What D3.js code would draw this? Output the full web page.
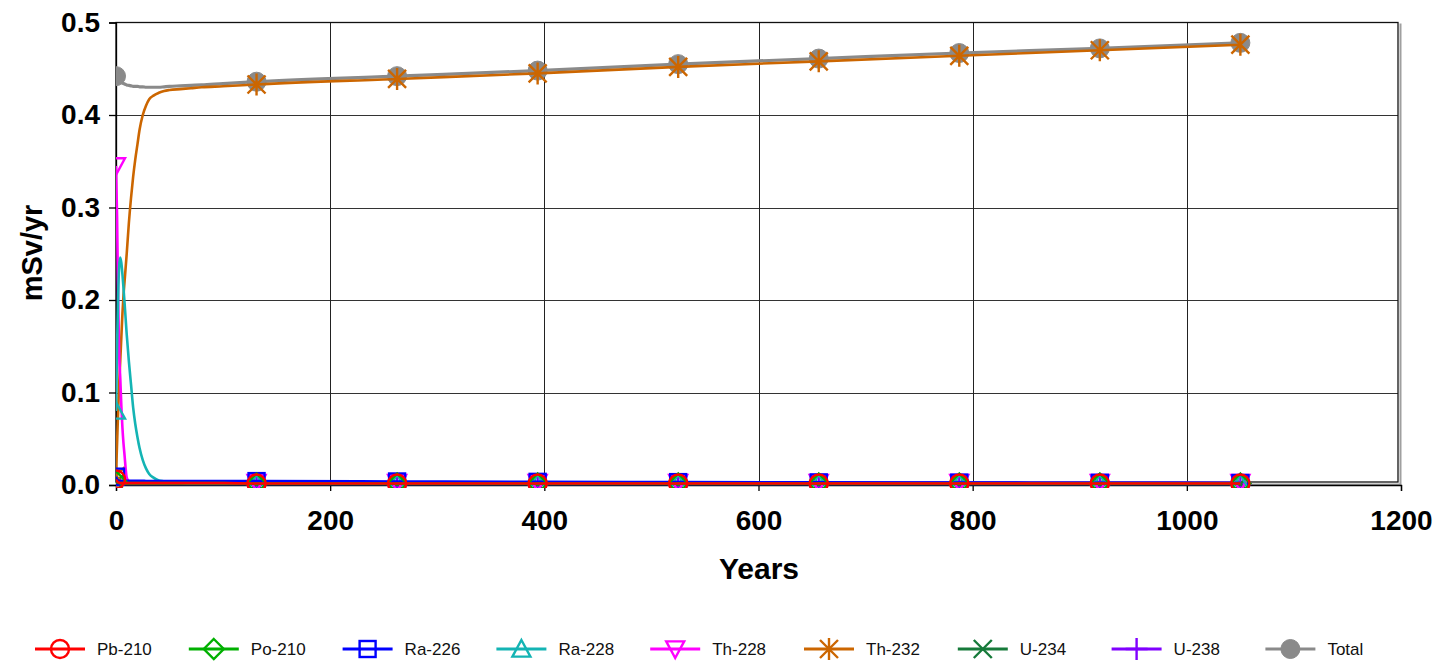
<!DOCTYPE html>
<html>
<head>
<meta charset="utf-8">
<script src="https://cdn.jsdelivr.net/npm/d3@7"></script>
<style>
  html, body { margin: 0; padding: 0; background: #fff; }
  svg { display: block; }
  text { font-family: "Liberation Sans", Arial, sans-serif; }
</style>
</head>
<body>
<svg id="chart" width="1441" height="661"></svg>
<script>
// Dose by nuclide over time (mSv/yr)
const years = [0, 1, 2, 3, 4, 5, 6, 7, 8, 9, 10, 12, 14, 16, 18, 20, 22, 25, 28, 31, 35, 40, 45, 50, 60, 70, 80, 100,
  131.25, 262.5, 393.75, 525, 656.25, 787.5, 918.75, 1050];
const markerYears = [0, 131.25, 262.5, 393.75, 525, 656.25, 787.5, 918.75, 1050];

const pb210 = [0.006, 0.004, 0.003, 0.0025, 0.002, 0.002, 0.002, 0.002, 0.002, 0.002, 0.002, 0.002, 0.002, 0.002, 0.002, 0.002, 0.002, 0.002, 0.002, 0.002, 0.002, 0.002, 0.002, 0.002, 0.002, 0.002, 0.002, 0.002,
  0.0016, 0.0016, 0.0016, 0.0016, 0.0016, 0.0016, 0.0016, 0.0016];
const po210 = [0.004, 0.003, 0.0025, 0.002, 0.002, 0.002, 0.002, 0.002, 0.002, 0.002, 0.002, 0.002, 0.002, 0.002, 0.002, 0.002, 0.002, 0.002, 0.002, 0.002, 0.002, 0.002, 0.002, 0.002, 0.002, 0.002, 0.002, 0.002,
  0.0015, 0.0015, 0.0015, 0.0015, 0.0015, 0.0015, 0.0015, 0.0015];
const ra226 = [0.009, 0.006, 0.005, 0.0045, 0.0045, 0.0045, 0.0045, 0.0045, 0.0045, 0.0045, 0.0045, 0.0045, 0.0045, 0.0045, 0.0045, 0.0045, 0.0045, 0.0045, 0.0044, 0.0044, 0.0044, 0.0044, 0.0044, 0.0044, 0.0044, 0.0043, 0.0043, 0.0043,
  0.0042, 0.0038, 0.0034, 0.0031, 0.0028, 0.0026, 0.0024, 0.0022];
const ra228 = [0.080, 0.150, 0.205, 0.237, 0.246, 0.240, 0.228, 0.213, 0.197, 0.180, 0.163, 0.134, 0.109, 0.084, 0.066, 0.052, 0.040, 0.027, 0.018, 0.012, 0.008, 0.005, 0.004, 0.003, 0.0025, 0.002, 0.002, 0.002,
  0.002, 0.002, 0.002, 0.002, 0.002, 0.002, 0.002, 0.002];
const th228 = [0.345, 0.290, 0.200, 0.140, 0.115, 0.085, 0.062, 0.045, 0.032, 0.018, 0.008, 0.004, 0.003, 0.0025, 0.0025, 0.0025, 0.0025, 0.0025, 0.0025, 0.0025, 0.0025, 0.0025, 0.0025, 0.0025, 0.0025, 0.0025, 0.0025, 0.0025,
  0.0025, 0.0025, 0.0025, 0.0025, 0.0025, 0.0025, 0.0025, 0.0025];
const th232 = [0.010, 0.045, 0.080, 0.110, 0.135, 0.160, 0.185, 0.205, 0.220, 0.235, 0.250, 0.283, 0.310, 0.333, 0.352, 0.368, 0.384, 0.400, 0.410, 0.417, 0.421, 0.424, 0.426, 0.427, 0.428, 0.429, 0.430, 0.431,
  0.433, 0.439, 0.445, 0.452, 0.458, 0.464, 0.470, 0.476];
const u234 = [0.003, 0.002, 0.0015, 0.0012, 0.0012, 0.0012, 0.0012, 0.0012, 0.0012, 0.0012, 0.0012, 0.0012, 0.0012, 0.0012, 0.0012, 0.0012, 0.0012, 0.0012, 0.0012, 0.0012, 0.0012, 0.0012, 0.0012, 0.0012, 0.0012, 0.0012, 0.0012, 0.0012,
  0.0012, 0.0012, 0.0012, 0.0012, 0.0012, 0.0012, 0.0012, 0.0012];
const u238 = [0.003, 0.002, 0.0015, 0.0011, 0.0011, 0.0011, 0.0011, 0.0011, 0.0011, 0.0011, 0.0011, 0.0011, 0.0011, 0.0011, 0.0011, 0.0011, 0.0011, 0.0011, 0.0011, 0.0011, 0.0011, 0.0011, 0.0011, 0.0011, 0.0011, 0.0011, 0.0011, 0.0011,
  0.0011, 0.0011, 0.0011, 0.0011, 0.0011, 0.0011, 0.0011, 0.0011];
const total = [0.442, 0.440, 0.438, 0.437, 0.436, 0.435, 0.4345, 0.434, 0.4335, 0.433, 0.4325, 0.432, 0.4315, 0.431, 0.431, 0.431, 0.4305, 0.4305, 0.430, 0.430, 0.430, 0.430, 0.4305, 0.431, 0.4315, 0.432, 0.4325, 0.434,
  0.436, 0.442, 0.448, 0.455, 0.461, 0.467, 0.472, 0.478];

const xTicks = [0, 200, 400, 600, 800, 1000, 1200];
const yTicks = [0.0, 0.1, 0.2, 0.3, 0.4, 0.5];

const series = [
  { name: "Pb-210", values: pb210, color: "#ff0000", marker: "circle" },
  { name: "Po-210", values: po210, color: "#00b000", marker: "diamond" },
  { name: "Ra-226", values: ra226, color: "#0000ff", marker: "square" },
  { name: "Ra-228", values: ra228, color: "#14b4b4", marker: "triangle" },
  { name: "Th-228", values: th228, color: "#ff00ff", marker: "triangleDown" },
  { name: "Th-232", values: th232, color: "#cc6600", marker: "star" },
  { name: "U-234", values: u234, color: "#167a3a", marker: "x" },
  { name: "U-238", values: u238, color: "#8000ff", marker: "plus" },
  { name: "Total", values: total, color: "#8a8a8a", marker: "dot" }
];

const svg = d3.select("#chart");
const W = 1441, H = 661;
svg.append("rect").attr("width", W).attr("height", H).attr("fill", "#fff");

const x = d3.scaleLinear().domain([0, 1200]).range([116, 1401]);
const y = d3.scaleLinear().domain([0, 0.5]).range([485, 22.5]);

const frame = { left: 116, top: 22.5, right: 1398, bottom: 482 };

// plot-area shadow and border
svg.append("path")
  .attr("d", `M${frame.right + 2.5},${frame.top + 1}V${frame.bottom + 2.5}H${frame.left + 2}`)
  .attr("fill", "none").attr("stroke", "#a0a0a0").attr("stroke-width", 2);

// gridlines
const grid = svg.append("g");
grid.selectAll("line.h").data(yTicks.filter(v => v > 0 && v < 0.5)).join("line")
  .attr("x1", frame.left).attr("x2", frame.right)
  .attr("y1", d => Math.round(y(d)) + 0.5).attr("y2", d => Math.round(y(d)) + 0.5)
  .attr("stroke", "#333").attr("stroke-width", 1.2);
grid.selectAll("line.v").data(xTicks.filter(v => v > 0 && v < 1200)).join("line")
  .attr("x1", d => Math.round(x(d)) + 0.5).attr("x2", d => Math.round(x(d)) + 0.5)
  .attr("y1", frame.top).attr("y2", y(0))
  .attr("stroke", "#222").attr("stroke-width", 1);

svg.append("rect")
  .attr("x", frame.left).attr("y", frame.top)
  .attr("width", frame.right - frame.left).attr("height", frame.bottom - frame.top)
  .attr("fill", "none").attr("stroke", "#111").attr("stroke-width", 1.3);

// axes
const xAxis = svg.append("g").attr("transform", `translate(0,${y(0)})`)
  .call(d3.axisBottom(x).tickValues(xTicks).tickFormat(d3.format("d")).tickSizeOuter(0).tickSize(6).tickPadding(19));
const yAxis = svg.append("g").attr("transform", `translate(${x(0)},0)`)
  .call(d3.axisLeft(y).tickValues(yTicks).tickFormat(d3.format(".1f")).tickSizeOuter(0).tickSize(7).tickPadding(9));
[xAxis, yAxis].forEach(a => {
  a.select(".domain").attr("stroke", "#000").attr("stroke-width", 1.3);
  a.selectAll(".tick line").attr("stroke", "#000").attr("stroke-width", 1.3);
  a.selectAll("text").attr("fill", "#000").attr("font-size", 28).attr("font-weight", "bold")
    .attr("font-family", "Liberation Sans, Arial, sans-serif");
});

svg.append("text").attr("x", 759).attr("y", 579).attr("text-anchor", "middle")
  .attr("font-size", 30).attr("font-weight", "bold").text("Years");
svg.append("text").attr("transform", `translate(42,${253}) rotate(-90)`).attr("text-anchor", "middle")
  .attr("font-size", 29).attr("font-weight", "bold").text("mSv/yr");

// clip regions
const defs = svg.append("defs");
defs.append("clipPath").attr("id", "plotClip").append("rect")
  .attr("x", 116).attr("y", 0).attr("width", 1300).attr("height", 488);

const marker = (sel, type, color, s) => {
  const g = sel;
  const sw = 2.4;
  switch (type) {
    case "circle":
      g.append("circle").attr("r", s).attr("fill", "none").attr("stroke", color).attr("stroke-width", sw); break;
    case "dot":
      g.append("circle").attr("r", s + 0.5).attr("fill", color).attr("stroke", color).attr("stroke-width", 1); break;
    case "diamond":
      g.append("path").attr("d", `M0,${-s - 1}L${s + 1},0L0,${s + 1}L${-s - 1},0Z`).attr("fill", "none").attr("stroke", color).attr("stroke-width", sw); break;
    case "square":
      g.append("rect").attr("x", -s + 1).attr("y", -s + 1).attr("width", 2 * s - 2).attr("height", 2 * s - 2).attr("fill", "none").attr("stroke", color).attr("stroke-width", sw); break;
    case "triangle":
      g.append("path").attr("d", `M0,${-s}L${s},${s * 0.85}L${-s},${s * 0.85}Z`).attr("fill", "none").attr("stroke", color).attr("stroke-width", sw); break;
    case "triangleDown":
      g.append("path").attr("d", `M0,${s}L${s},${-s * 0.85}L${-s},${-s * 0.85}Z`).attr("fill", "none").attr("stroke", color).attr("stroke-width", sw); break;
    case "star":
      g.append("path").attr("d", `M0,${-s - 2}V${s + 2}M${-s},${-s}L${s},${s}M${s},${-s}L${-s},${s}`).attr("fill", "none").attr("stroke", color).attr("stroke-width", sw); break;
    case "x":
      g.append("path").attr("d", `M${-s},${-s}L${s},${s}M${s},${-s}L${-s},${s}`).attr("fill", "none").attr("stroke", color).attr("stroke-width", sw); break;
    case "plus":
      g.append("path").attr("d", `M0,${-s - 2}V${s + 2}M${-s - 2},0H${s + 2}`).attr("fill", "none").attr("stroke", color).attr("stroke-width", sw); break;
  }
};

const line = d3.line().x((d, i) => x(years[i])).y(d => y(d)).curve(d3.curveMonotoneX);
const plot = svg.append("g").attr("clip-path", "url(#plotClip)");

// later series sit underneath earlier ones
series.slice().reverse().forEach(s => {
  plot.append("path").datum(s.values)
    .attr("d", line)
    .attr("fill", "none").attr("stroke", s.color)
    .attr("stroke-width", s.name === "Total" ? 3.2 : 2.6)
    .attr("stroke-linejoin", "round");
  markerYears.forEach(t => {
    const v = s.values[years.indexOf(t)];
    const g = plot.append("g").attr("transform", `translate(${x(t)},${y(v)})`);
    marker(g, s.marker, s.color, 9);
  });
});

// legend
const legend = svg.append("g");
series.forEach((s, i) => {
  const x0 = 35 + i * 153.8;
  const g = legend.append("g").attr("transform", `translate(${x0},649)`);
  g.append("line").attr("x1", 0).attr("x2", 50).attr("stroke", s.color).attr("stroke-width", 3);
  marker(g.append("g").attr("transform", "translate(25,0)"), s.marker, s.color, 9);
  g.append("text").attr("x", 62).attr("y", 6).attr("font-size", 17).attr("fill", "#111").text(s.name);
});
</script>
</body>
</html>
